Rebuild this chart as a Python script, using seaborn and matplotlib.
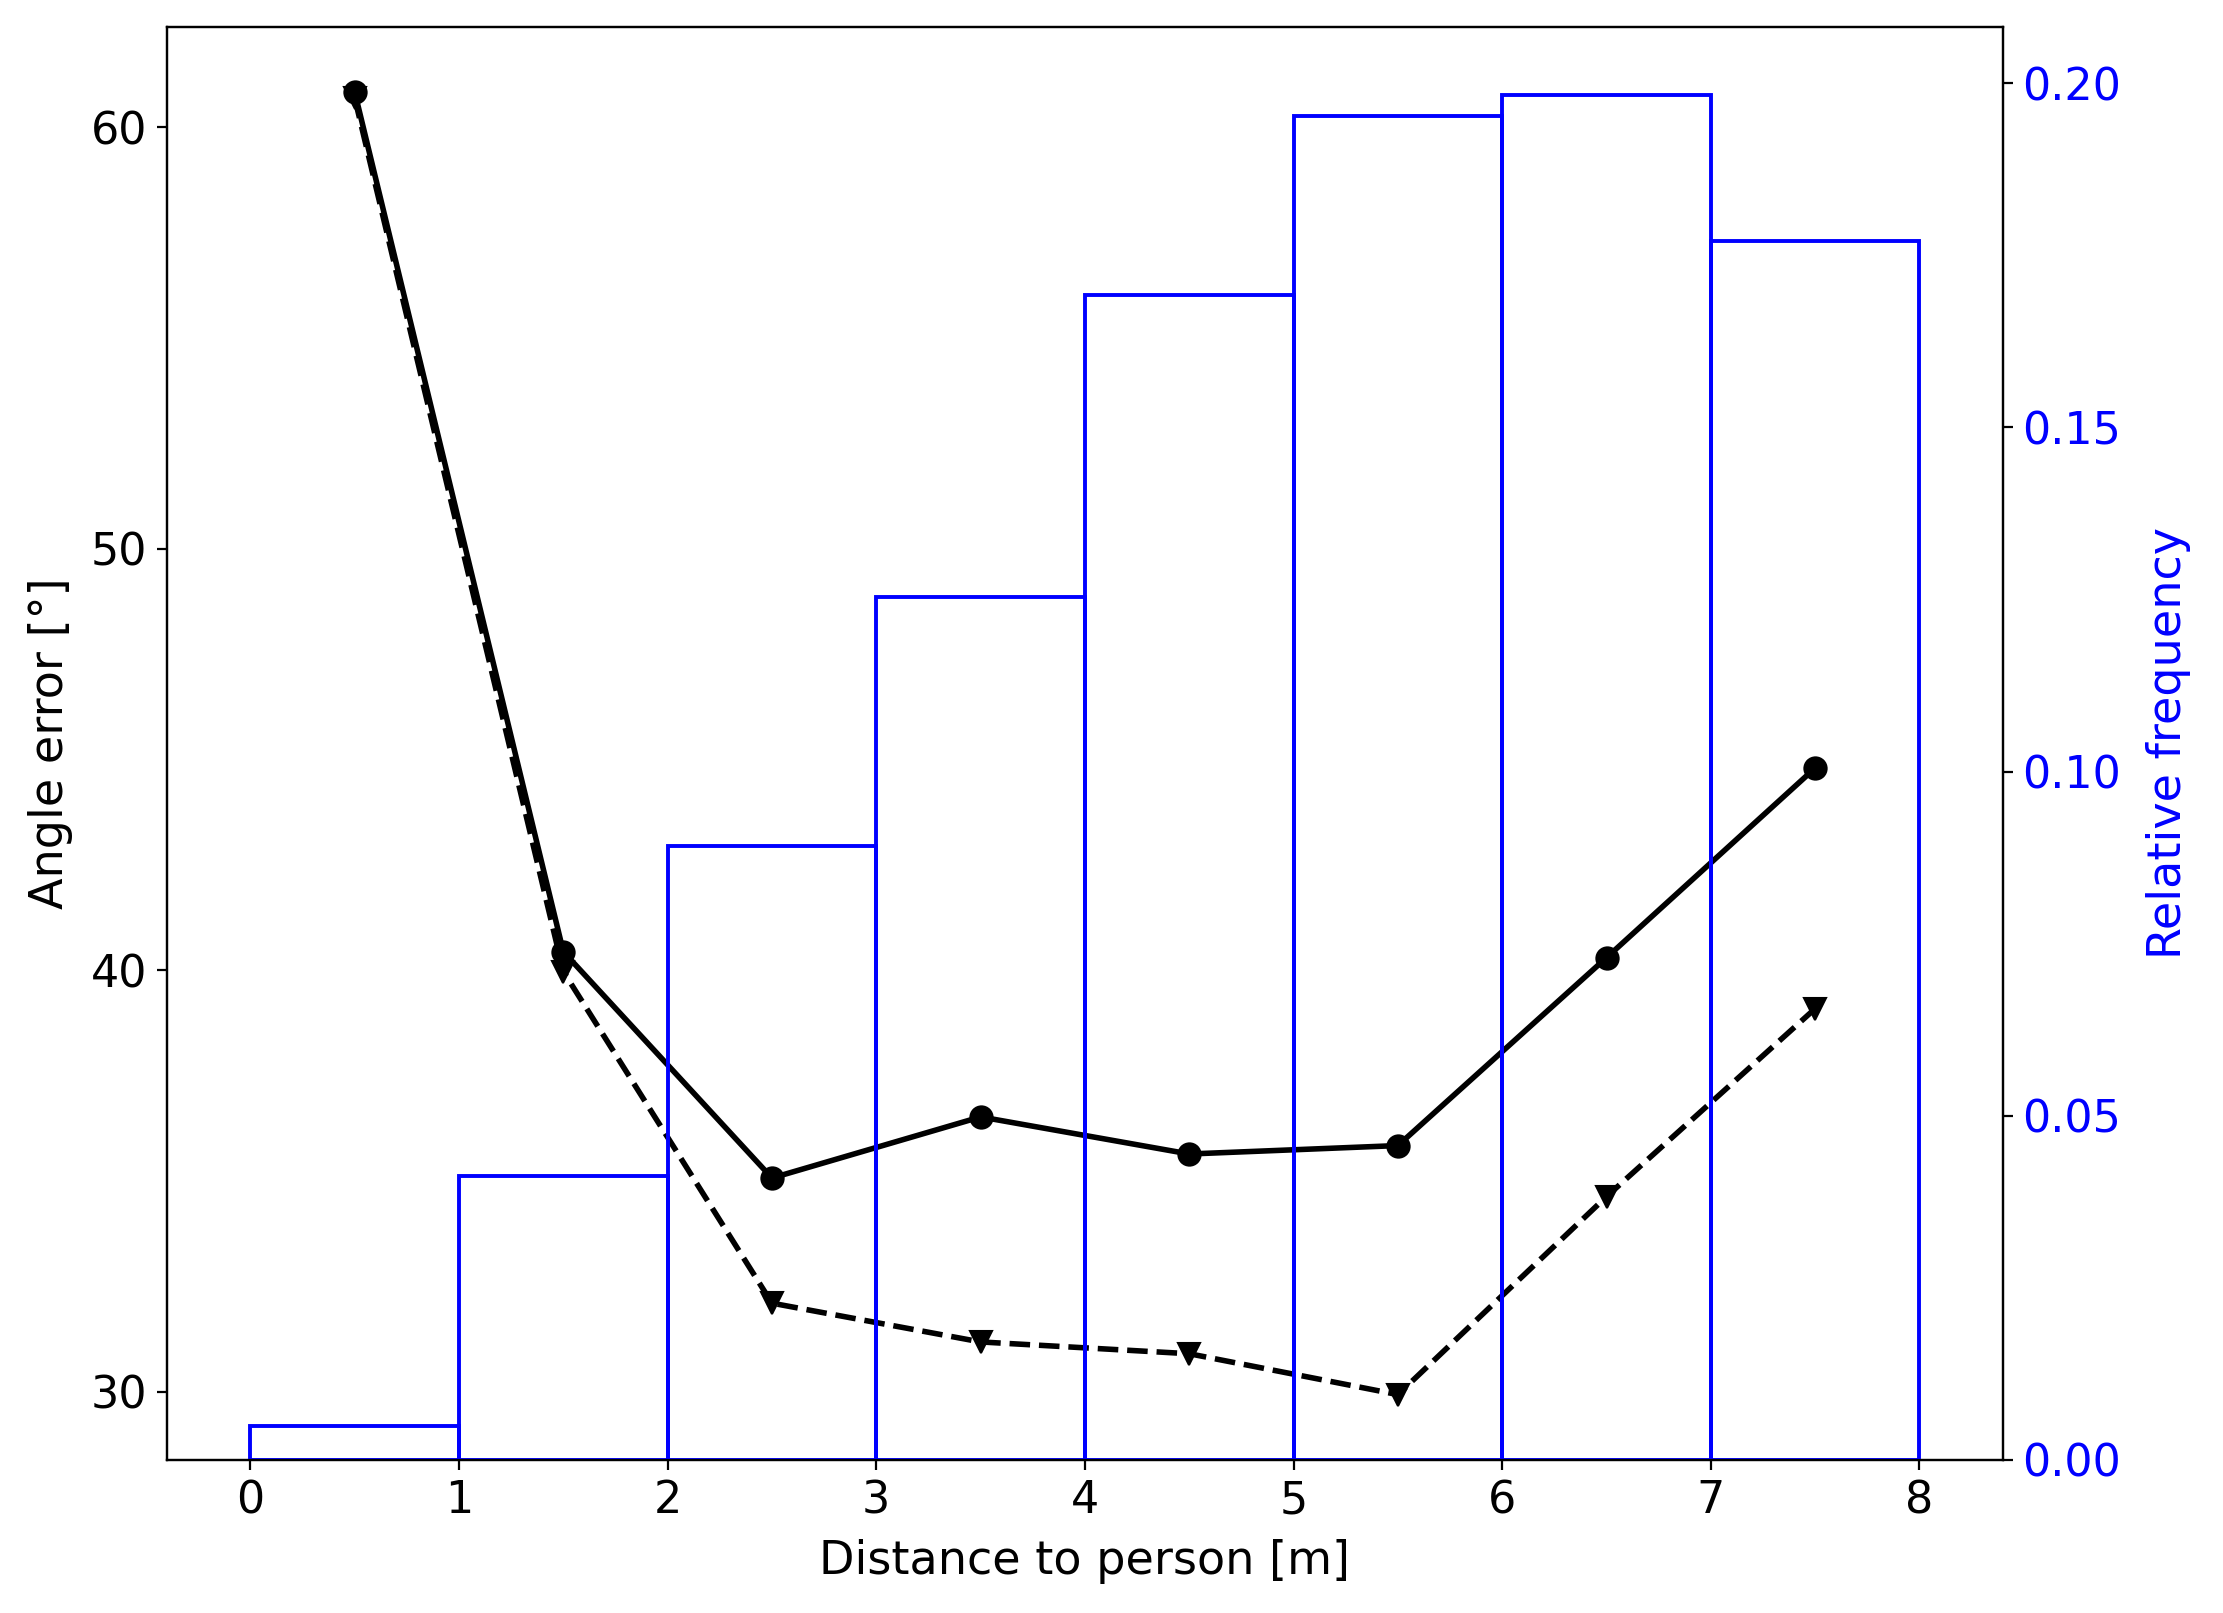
import matplotlib
matplotlib.use("Agg")
import matplotlib.pyplot as plt
import seaborn as sns
import numpy as np

# Data
bin_edges = [0, 1, 2, 3, 4, 5, 6, 7, 8]
rel_freq = [0.005, 0.0413, 0.0892, 0.1253, 0.1692, 0.1953, 0.1983, 0.1771]
dist = [0.5, 1.5, 2.5, 3.5, 4.5, 5.5, 6.5, 7.5]
err_solid = [60.84, 40.44, 35.07, 36.52, 35.64, 35.84, 40.30, 44.80]
err_dashed = [60.70, 39.97, 32.10, 31.18, 30.90, 29.93, 34.63, 39.09]

plt.rcParams['font.family'] = ['DejaVu Sans']
plt.rcParams['font.size'] = 16

fig = plt.figure(figsize=(11.115, 8.065), dpi=200)
ax = fig.add_axes([0.0751, 0.0949, 0.9010 - 0.0751, 0.9834 - 0.0949])

sns.lineplot(x=dist, y=err_solid, ax=ax, color='black', linestyle='-',
             marker='o', markersize=8, linewidth=2, markeredgecolor='black')
sns.lineplot(x=dist, y=err_dashed, ax=ax, color='black', linestyle='--',
             marker='v', markersize=8, linewidth=2, markeredgecolor='black')
ax.set_xlabel('Distance to person [m]', fontsize=16.6, labelpad=6)
ax.set_ylabel('Angle error [°]', fontsize=16.6, labelpad=6.5)
ax.set_yticks([30, 40, 50, 60])
ax.tick_params(labelsize=16)

ax2 = ax.twinx()
sns.histplot(x=dist, weights=rel_freq, bins=bin_edges, ax=ax2, fill=False,
             element='bars', color='blue', linewidth=1.4, edgecolor='blue')
ax2.set_ylabel('Relative frequency', color='blue', fontsize=16.6, labelpad=9)
ax2.tick_params(axis='y', labelcolor='blue', labelsize=16)
ax2.set_yticks([0.0, 0.05, 0.10, 0.15, 0.20])
ax2.set_yticklabels(['0.00', '0.05', '0.10', '0.15', '0.20'])
ax2.set_ylim(0, 0.2082)
ax.set_xlim(-0.4, 8.4)
ax.set_ylim(28.38, 62.39)
ax.set_xticks(range(0, 9))

fig.savefig('out.png', dpi=200)
